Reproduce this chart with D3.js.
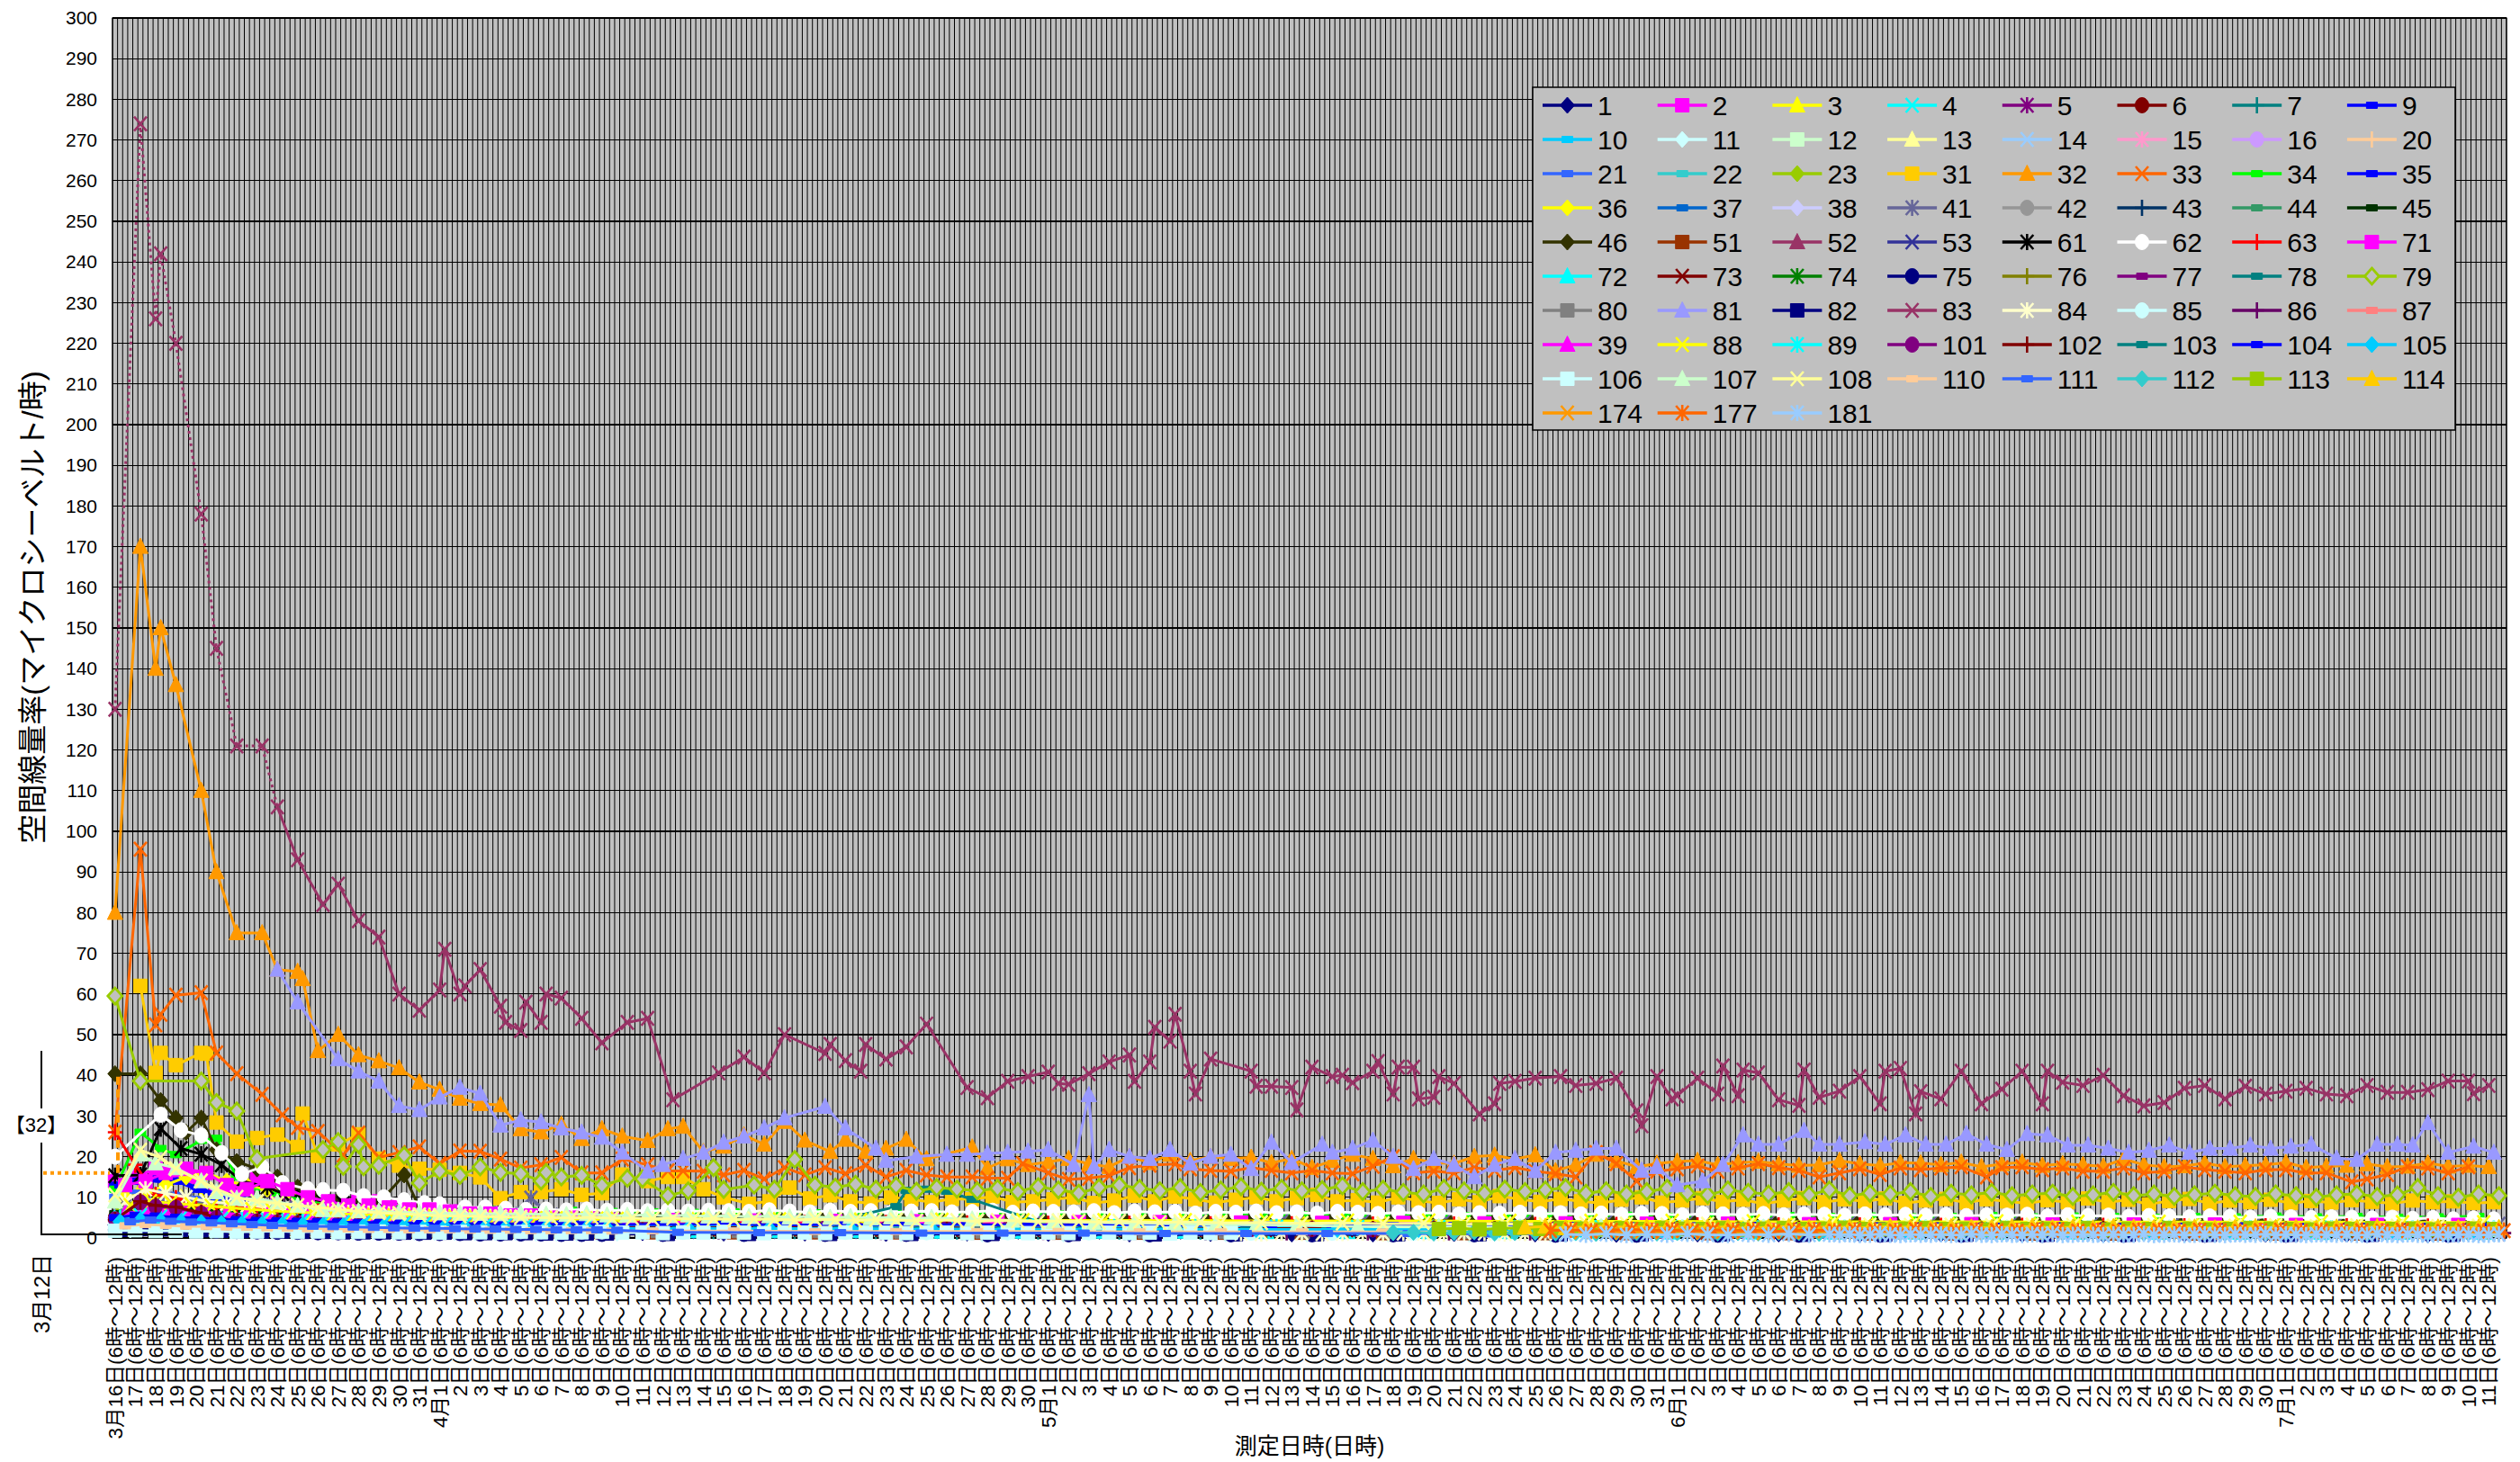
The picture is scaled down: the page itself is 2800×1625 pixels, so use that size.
<!DOCTYPE html>
<html><head><meta charset="utf-8">
<script src="https://cdn.jsdelivr.net/npm/d3@7"></script>
<style>
body{margin:0;background:#fff}
svg text{font-family:"Liberation Sans","Noto Sans CJK JP",sans-serif;fill:#000}
</style></head>
<body><svg id="chart" width="2800" height="1625"></svg>
<script>
// ---------- helpers for data entry (t = days after 3/16 6時, 0.25 = one category) ----------
function run(start, vals, step = 1, slot = 0) { return vals.map((v, i) => [start + i * step + slot / 4, v]); }

// ---------- categories / ticks ----------
const monthSpans = [["3月", 16, 31], ["4月", 1, 30], ["5月", 1, 31], ["6月", 1, 30], ["7月", 1, 11]];
const categoriesPerDay = 4;
const yTicks = d3.range(0, 301, 10);
const mar12Value32 = 16;

// ---------- series meta ----------
const seriesNames = ["1","2","3","4","5","6","7","9","10","11","12","13","14","15","16","20","21","22","23","31","32","33","34","35","36","37","38","41","42","43","44","45","46","51","52","53","61","62","63","71","72","73","74","75","76","77","78","79","80","81","82","83","84","85","86","87","39","88","89","101","102","103","104","105","106","107","108","110","111","112","113","114","174","177","181"];
const seriesColors = ["#000080","#FF00FF","#FFFF00","#00FFFF","#800080","#800000","#008080","#0000FF","#00CCFF","#CCFFFF","#CCFFCC","#FFFF99","#99CCFF","#FF99CC","#CC99FF","#FFCC99","#3366FF","#33CCCC","#99CC00","#FFCC00","#FF9900","#FF6600","#00FF00","#0000FF","#FFFF00","#0066CC","#CCCCFF","#666699","#969696","#003366","#339966","#003300","#333300","#993300","#993366","#333399","#000000","#FFFFFF","#FF0000","#FF00FF","#00FFFF","#800000","#008000","#000080","#808000","#800080","#008080","#99CC00","#808080","#9999FF","#000080","#993366","#FFFFCC","#CCFFFF","#660066","#FF8080","#FF00FF","#FFFF00","#00FFFF","#800080","#800000","#008080","#0000FF","#00CCFF","#CCFFFF","#CCFFCC","#FFFF99","#FFCC99","#3366FF","#33CCCC","#99CC00","#FFCC00","#FF9900","#FF6600","#99CCFF"];
const seriesMarkers = ["dia","sq","tri","x","star","circ","plus","dash","dash","dia","sq","tri","x","star","circ","plus","dash","dash","dia","sq","tri","x","dash","dash","dia","dash","dia","star","circ","plus","dash","dash","dia","sq","tri","x","star","circ","plus","sq","tri","x","star","circ","plus","dash","dash","hdia","sq","tri","sq","x","star","circ","plus","dash","tri","x","star","circ","plus","dash","dash","dia","sq","tri","x","dash","dash","dia","sq","tri","x","star","star"];
const dottedUntil = {"83": 8};

// ---------- series values ----------
const s1 = [...run(0,[3.2,3.5,3.1,2.9,2.7,2.5,2.4,2.3,2.2,2,2,1.9,1.8,1.8,1.7,1.7,1.6,1.6,1.5,1.5,1.5,1.4,1.4,1.4,1.3]), ...run(26,[1.3,1.2,1.2,1.1,1.2,1.1,1,1.1,1,1,1.1,1,0.9,1,1,0.9,1,0.9,0.9,1,0.9,0.9,0.8],4)];
const s2 = [...run(0,[14,15,17,16,15,11,12,15,11,10,9,8,9,9,8,7,7,6.5,6,6,5.5,5.2,5,5,4.6]), ...run(27,[4.4,4.2,4,4.1,3.9,3.8,3.9,3.7,3.6,3.8,3.5,3.6,3.4,3.5,3.3,3.4,3.2,3.3,3.1,3.2,3,3.1,3],4)];
const s3 = [...run(0,[10,12,11,10,9.5,9,8,8,7,7,6.5,6,6,5.5,5.5,5,5,4.8,4.6,4.5,4.4,4.2,4,4,3.8],1,1), ...run(28,[3.7,3.6,3.5,3.6,3.4,3.3,3.4,3.2,3.1,3.2,3,3.1,2.9,3,2.8,2.9,2.8,2.7,2.8,2.6,2.7,2.6,2.5],4,1)];
const s4 = [...run(0,[6,7.5,7,6.5,6,5.8,5.5,5.3,5,4.9,4.8,4.7,4.6,4.5,4.5,4.4,4.3,4.2,4.2,4.1,4,4,3.9,3.9,3.8],1,2), ...run(26,[3.8,4.6,3.7,4.8,3.6,4.2,3.5,4.4,3.4,3.6,3.3,3.5,3.2,3.4,3.1,3.3,3,3.2,3,3.1,2.9,3,2.8],4,2)];
const s5 = [...run(0,[4,4.5,4.2,4,3.8,3.6,3.4,3.3,3.2,3,3,2.9,2.8,2.8,2.7,2.6,2.6,2.5,2.5,2.4,2.4,2.3,2.3,2.2,2.2],1,1), ...run(27,[2.1,2.1,2,2,2,1.9,1.9,1.9,1.8,1.8,1.8,1.7,1.7,1.7,1.7,1.6,1.6,1.6,1.6,1.5,1.5,1.5,1.5],4,1)];
const s6 = [...run(0,[5,5.5,5.2,5,4.8,4.5,4.3,4.1,4,3.8,3.7,3.6,3.5,3.4,3.3,3.2,3.1,3,3,2.9,2.8,2.8,2.7,2.7,2.6]), ...run(28,[2.6,2.5,2.5,2.4,2.4,2.3,2.3,2.3,2.2,2.2,2.2,2.1,2.1,2.1,2,2,2,2,1.9,1.9,1.9,1.9,1.8],4)];
const s7 = [...run(0,[3,3.4,3.2,3,2.9,2.8,2.7,2.6,2.5,2.4,2.3,2.3,2.2,2.2,2.1,2.1,2,2,2,1.9,1.9,1.9,1.8,1.8,1.8],1,2), ...run(29,[1.7,1.7,1.7,1.6,1.6,1.6,1.6,1.5,1.5,1.5,1.5,1.5,1.4,1.4,1.4,1.4,1.4,1.3,1.3,1.3,1.3,1.3,1.3],4,2)];
const s9 = [...run(0,[13,14,14.5,14,12,10,9,8,7.5,7,6.5,6.2,6,5.8,5.5,5.3,5,4.9,4.8,4.6,4.5,4.4,4.3,4.2,4.1]), ...run(26,[4,3.9,3.8,3.8,3.7,3.6,3.6,3.5,3.5,3.4,3.4,3.3,3.3,3.3,3.2,3.2,3.1,3.1,3.1,3,3,3,3],4)];
const s10 = [...run(0,[8,8.5,8,7.5,7,6.5,6,5.6,5.3,5,4.8,4.6,4.4,4.2,4,3.9,3.8,3.7,3.6,3.5,3.4,3.3,3.2,3.2,3.1],1,1), ...run(27,[3,3,2.9,2.9,2.8,2.8,2.8,2.7,2.7,2.7,2.6,2.6,2.6,2.5,2.5,2.5,2.5,2.4,2.4,2.4,2.4,2.3,2.3],4,1)];
const s11 = [...run(0,[2,2.3,2.1,2,1.9,1.8,1.7,1.7,1.6,1.6,1.5,1.5,1.5,1.4,1.4,1.4,1.3,1.3,1.3,1.3,1.2,1.2,1.2,1.2,1.2],1,3), ...run(26,[1.1,1.1,1.1,1.1,1,1,1,1,1,1,0.9,0.9,0.9],4,3)];
const s12 = [...run(0,[6,6.5,6.2,6,5.6,5.3,5,4.8,4.6,4.4,4.2,4.1,4,3.9,3.8,3.7,3.6,3.5,3.4,3.4,3.3,3.3,3.2,3.2,3.1],1,2), ...run(28,[3.1,3,3,2.9,2.9,2.9,2.8,2.8,2.8,2.7,2.7,2.7,2.6,2.6,2.6,2.6,2.5,2.5,2.5,2.5,2.4,2.4,2.4],4,2)];
const s13 = [...run(0,[5,5.5,5.2,5,4.8,4.6,4.4,4.2,4,3.9,3.8,3.7,3.6,3.5,3.4,3.3,3.3,3.2,3.1,3.1,3,3,2.9,2.9,2.8],1,1), ...run(29,[2.8,2.7,2.7,2.7,2.6,2.6,2.6,2.5,2.5,2.5,2.5,2.4,2.4,2.4,2.4,2.3,2.3,2.3,2.3,2.3,2.2,2.2,2.2],4,1)];
const s14 = [...run(0,[4,4.4,4.1,3.9,3.7,3.5,3.3,3.1,3,2.9,2.8,2.7,2.6,2.5,2.4,2.4,2.3,2.2,2.2,2.1,2.1,2,2,1.9,1.9],1,3), ...run(27,[1.9,1.8,1.8,1.8,1.7,1.7,1.7,1.6,1.6,1.6,1.6,1.5,1.5,1.5,1.5,1.4,1.4,1.4,1.4,1.4,1.3,1.3,1.3],4,3)];
const s15 = [...run(0,[3,3.3,3.1,3,2.9,2.8,2.7,2.6,2.5,2.4,2.4,2.3,2.2,2.2,2.1,2.1,2,2,2,1.9,1.9,1.9,1.8,1.8,1.8],1,2), ...run(26,[1.7,1.7,1.7,1.7,1.6,1.6,1.6,1.6,1.5,1.5,1.5,1.5,1.5,1.4,1.4,1.4,1.4,1.4,1.4,1.3,1.3,1.3,1.3],4,2)];
const s16 = [...run(0,[4,4.5,4.3,4,3.8,3.6,3.5,3.3,3.2,3.1,3,2.9,2.8,2.8,2.7,2.6,2.6,2.5,2.5,2.4,2.4,2.3,2.3,2.3,2.2],1,1), ...run(28,[2.2,2.1,2.1,2.1,2,2,2,2,1.9,1.9,1.9,1.9,1.8,1.8,1.8,1.8,1.8,1.7,1.7,1.7,1.7,1.7,1.6],4,1)];
const s20 = [...run(0,[3,3.2,3,2.9,2.8,2.7,2.6,2.5,2.4,2.3,2.3,2.2,2.1,2.1,2,2,2,1.9,1.9,1.9,1.8,1.8,1.8,1.7,1.7],1,3), ...run(29,[1.7,1.6,1.6,1.6,1.6,1.5,1.5,1.5,1.5,1.5,1.4,1.4,1.4,1.4,1.4,1.4,1.3,1.3,1.3,1.3,1.3,1.3,1.3],4,3)];
const s21 = [...run(0,[10,11,11.5,10.5,9.5,8.5,7.8,7.2,6.8,6.4,6,5.8,5.5,5.3,5.1,5,4.8,4.7,4.6,4.5,4.4,4.3,4.2,4.1,4]), ...run(26,[3.9,3.8,3.8,3.7,3.6,3.6,3.5,3.5,3.4,3.4,3.4,3.3,3.3,3.3,3.2,3.2,3.2,3.1,3.1,3.1,3.1,3,3],4)];
const s22 = [...run(0,[5,5.4,5.2,5,4.8,4.6,4.4,4.2,4,3.9,3.8,3.7,3.6,3.5,3.4,3.3,3.2,3.2,3.1,3,3,2.9,2.9,2.8,2.8],1,2), ...run(27,[2.7,2.7,2.6,2.6,2.6,2.5,2.5,2.5,2.4,2.4,2.4,2.4,2.3,2.3,2.3,2.3,2.2,2.2,2.2,2.2,2.2,2.1,2.1],4,2)];
const s23 = [...run(0,[8,9,8.5,8,7.6,7.2,6.8,6.5,6.2,6,5.8,5.6,5.5,5.3,5.2,5.1,5,4.9,4.8,4.7,4.6,4.6,4.5,4.4,4.4],1,1), ...run(28,[4.3,4.3,4.2,4.2,4.1,4.1,4,4,4,3.9,3.9,3.9,3.8,3.8,3.8,3.8,3.7,3.7,3.7,3.7,3.6,3.6,3.6],4,1)];
const s31 = [[1.25,62],[2,40.6],[2.25,45.5],[3,42.5],[4.25,45.5],[4.5,45.3],[5,28.4],[6,23.7],[7,24.6],[8,25.4],[9,22.4],[9.25,30.6],[10,20.2],[11,23],[12,25.5],[13,19.5],[14,17.8],[15,17],[16,16.8],[17,16],[18,14.9],[19,9.8],[20,11.3],[21,11.3],[22,12],[23,10.6],[24,11],[25,15.6],[26.25,14],[27.25,15],[28,15],[29,12],[30,10],
  ...run(31,[8.4,9,12.4,9.7,10.5,9,8.5,10,9.5,8.8,9.6,9.5,10.2,8.8,9,9.5,10,8.6,9.2,10.4,9,10.2,9.5,8.7,9.4,10,9,9.8,10.6,9,9.3,8.7,10,9.2,8.6,9.5,8.8,10.3,9.5,8.9,9.6,9,8.6,9.4,10,8.7,9.2,9.8,8.9,9.4,8.4,9.2,9.8,8.8,9.5,9,9.7,8.6,9.2,9.6,8.7,9.5,9,8.5,9.3,8.8,9.7,8.8,9.4,8.3,9.1,9.6,8.5,9.2,8.8,9.4,8.6,9.1,8.7,9.3,8.9,8.5,9.2,8.8,9,8.6,8.8],1,1)];
const s32 = [[0,80],[1.25,170],[2,140],[2.25,150],[3,136],[4.25,110],[5,90],[6,75],[7.25,75],[8,66],[9,65.5],[9.25,63.7],[10,46],[11,50],[12,45],[13,43.5],[14,41.8],[15,38.3],[16,36.5],[17,34.3],[18,33],[19,32.7],[20,26.8],[21,26],[22,27.9],[23,24.4],[24,26.8],[25,25],[26.25,23.9],[27.25,26.8],[28,27.4],[29,21.2],[30,22.5],[31,25.3],[32,23],[33,28.6],[34,24],[35.25,21.2],[36,24.2],[37,21.2],[38,22],[39,24.2],[40,19.4],[42.25,22.3],[43,17.2],[44,19.4],[45,18],[46,18.7],[47,19.5],[48,18.2],[49,17.5],[50,20],[51,18.5],[52,20.5],[53,19],[54,20],[55,19.5],[56,19.8],[57,18.5],[58,19.5],[59,17.3],[60,19],[61,20.5],[62,19.5],[63,17.7],[64,19.5],[65,18.5],[66,18.3],[67,20],[68,20.3],[69,19.4],[70,20.4],[71,16.5],[72,18],[73,20.5],[74,19],[75,17.5],[76,18.3],[77,18.8],[78,19],[79,18],[80,18.5],[81,18.8],[82,18.2],[83,17.8],[84,18],[85,19],[86,18.2],[87,17.8],[88,18.5],[89,18.4],[90,18],[91,18.6],[92,17.5],[93,18.2],[94,18.6],[95,17.8],[96,18.2],[97,18],[98,17.6],[99,19.4],[100,18],[101,17.5],[102,17.7],[103,18.4],[104,17.5],[105,17.8],[106,18],[107,18.5],[108,17.3],[109,17.6],[110,17.8],[111,18.2],[112,17.5],[113,17.6],[114,18.4],[115,17.6],[116,17.8],[117,17.5]];
const s33 = [[0,26],[1.25,95.6],[2,52.4],[2.25,55],[3,59.7],[4.25,60.3],[5,45.5],[6,40.4],[7.25,35.3],[8.25,30.3],[9,27.2],[10,26.2],[11.25,20.4],[12,25.8],[13,19.8],[14,21],[15,22.4],[16,18.3],[17,21.4],[18,21.3],[19,19.4],[20,17.2],[21,18],[22,19.8],[23,16],[24,16],[25,19.4],[26.25,18],[27.25,16.5],[28,16.5],[29,16.4],[30,15.5],[31,16.6],[32,14.5],[33,17.3],[34,15.5],[35,17.3],[36,15.8],[37,17.9],[38,15],[39,16.6],[40,15.5],[41,15],[42.25,15],[43,14.7],[44,14.7],[44.75,18.3],[46,16],[47,14.4],[48,14.7],[49,15.3],[50,17.3],[51,17.9],[52.25,18.2],[53,17],[54,16.6],[55,16.4],[56,17.3],[57,16.6],[58,16],[59,16.6],[60,16],[61,15.8],[62,17.6],[63,20],[64,16],[65,16.4],[66,16],[67,17.3],[68,16.6],[69,17.3],[70,16.4],[71,15.8],[72,15],[73,21],[74,18.3],[75,14],[76,16.4],[77,17],[78,17.7],[79,16.4],[80,17.2],[81,18.3],[82,17.3],[83,16.6],[84,15],[85,16],[86,17],[87,15.6],[88,17.2],[89,16.8],[90,17.2],[91,17.5],[92.25,15],[93,17.3],[94,17.5],[95,16.8],[96,17.2],[97,16.4],[98,16.4],[99,17.2],[100,16],[101,16.4],[102,17.5],[103,16.8],[104,16.4],[105,16],[106,16.8],[107,16.8],[108,16],[109,16],[110.25,13.8],[111,14.5],[112,15.6],[113,17.5],[114,17.2],[115,16],[116,17.5]];
const s34 = [[0,12],[1.25,26],[2.25,22],[3,20.5],[4.25,24],[5,24.5],[6,15],[7,12.5],[8,11],[9,10],[10,9.2],[11,8.6],[12,8.2],[13,7.8],
  ...run(14,[7.6,7.2,7,6.7,6.8,6.5,6.4,6.3,6.4,6.1,6.2,6,6.1,5.9,6,5.8,5.9,5.7,5.8,5.6,5.8,5.5,5.7,5.6,5.4,5.6,5.5,5.3,5.5,5.4,5.6,5.3,5.4,5.2,5.5,5.3,5.4,5.2,5.3,5.5,5.2,5.4,5.3,5.1,5.3,5.2,5.4,5.2,5.3,5.1,5.2,5.3],2,2)];
const s35 = [...run(0,[13,14,14.5,14,12,10.5,9.5,8.5,7.8,7.2,6.8,6.4,6,5.8,5.5,5.3,5.1,5,4.8,4.7,4.6,4.5,4.4,4.3,4.2],1,1), ...run(25,[4.1,4,4.2,3.9,4,3.8,3.9,3.7,3.8,3.7,3.6,3.8,3.6,3.5,3.7,3.5,3.6,3.4,3.5,3.6,3.4,3.5,3.3,3.5,3.4,3.3,3.4,3.3,3.2,3.4,3.3],3,1)];
const s36 = [...run(0,[10,11,13,15,16,14,13,12,11.4,10,8.5,8,7.5,7,6.5,6.5,6,6,5.5,5.5,5,5,5,4.8,4.6],1,2), ...run(26,[4.5,4.4,4.4,4.3,4.2,4.2,4.1,4.1,4,4,4,3.9,3.9,3.9,3.8,3.8,3.8,3.8,3.7,3.7,3.7,3.7,3.6],4,2)];
const s37 = [...run(0,[6,6.5,6.3,6,5.7,5.4,5.2,5,4.8,4.6,4.5,4.4,4.3,4.2,4.1,4,3.9,3.9,3.8,3.8,3.7,3.7,3.6,3.6,3.5],1,3), ...run(27,[3.5,3.5,3.4,3.4,3.4,3.3,3.3,3.3,3.3,3.2,3.2,3.2,3.2,3.1,3.1,3.1,3.1,3.1,3,3,3,3,3],4,3)];
const s38 = [...run(0,[5,5.5,5.2,5,4.7,4.5,4.3,4.1,3.9,3.8,3.7,3.6,3.5,3.4,3.3,3.2,3.2,3.1,3,3,2.9,2.9,2.8,2.8,2.8]), ...run(28,[2.7,2.7,2.7,2.6,2.6,2.6,2.5,2.5,2.5,2.5,2.4,2.4,2.4,2.4,2.3,2.3,2.3,2.3,2.3,2.2,2.2,2.2,2.2],4)];
const s41 = [...run(0,[8,9,9.5,9.2,8.8,8.5,8.2,8,7.8,7.6,7.4,7.2,7,6.8,6.6,6.4,6.2,6,5.9,5.8,9.8,5.6,5.5,5.4,5.3],1,2), ...run(29,[5,4.8,4.6,4.5,4.4,4.3,4.2,4.1,4,4,3.9,3.9,3.8,3.8,3.7,3.7,3.6,3.6,3.6,3.5,3.5,3.5,3.4],4,2)];
const s42 = [...run(0,[6,6.5,7,7.2,7.3,6.5,6,5.5,5,4.6,4.3,4,3.8,3.6,3.4,3.2,3.1,3,2.9,2.8,2.7,2.6,2.6,2.5,2.5],1,3), ...run(26,[2.4,2.4,2.3,2.3,2.3,2.2,2.2,2.2,2.1,2.1,2.1,2.1,2,2,2,2,2,1.9,1.9,1.9,1.9,1.9,1.9],4,3)];
const s43 = [...run(0,[3,3.3,3.1,2.9,2.8,2.6,2.5,2.4,2.3,2.2,2.1,2.1,2,2,1.9,1.9,1.8,1.8,1.8,1.7,1.7,1.7,1.6,1.6,1.6],1,1), ...run(27,[1.5,1.5,1.5,1.5,1.4,1.4,1.4,1.4,1.3,1.3,1.3,1.3,1.3,1.2,1.2,1.2,1.2,1.2,1.2,1.1,1.1,1.1,1.1],4,1)];
const s44 = [...run(0,[5,5.4,5.1,4.9,4.7,4.5,4.3,4.1,3.9,3.8,3.7,3.6,3.5,3.4,3.3,3.2,3.1,3.1,3,3,2.9,2.9,2.8,2.8,2.7],1,2), ...run(28,[2.7,2.6,2.6,2.6,2.5,2.5,2.5,2.4,2.4,2.4,2.3,2.3,2.3,2.3,2.2,2.2,2.2,2.2,2.1,2.1,2.1,2.1,2],4,2)];
const s45 = [...run(0,[6,7,7.5,7.2,6.8,6.4,6,5.7,5.4,5.2,5,4.8,4.6,4.5,4.4,4.3,4.2,4.1,4,3.9,3.9,3.8,3.8,3.7,3.7]), ...run(29,[3.6,3.6,3.5,3.5,3.4,3.4,3.3,3.3,3.3,3.2,3.2,3.2,3.1,3.1,3.1,3,3,3,3,2.9,2.9,2.9,2.8],4)];
const s46 = [[0,40.4],[1.25,40.4],[2.25,33.8],[3,29.5],[3.5,26],[4.25,29.5],[5,21.7],[6,18.8],[7,17],[8,15],[9,12.5],[10,11],[11,9.3],[12,8.3],[13,8.5],[14.25,15.5],[15,7.5],[16,6.3],
  ...run(17,[6.2,5.9,6.0,5.7,5.8,5.5,5.6,5.4,5.5,5.2,5.3,5.1,5.2,5.0,5.1,4.9,5.0,4.8,4.9,4.7,4.9,4.6,4.8,4.7,4.6,4.8,4.5,4.7,4.6,4.5,4.7,4.4,4.6,4.5,4.6,4.4,4.5,4.3,4.6,4.4,4.5,4.3,4.4,4.5,4.2,4.4,4.3,4.5,4.2,4.4,4.3,4.2,4.4,4.3,4.2,4.4,4.1,4.3,4.2,4.4,4.1,4.3,4.2,4.1,4.3,4.2,4.0,4.3,4.1,4.2,4.0,4.2,4.1,4.0,4.2,4.1,3.9,4.2,4.0,4.1,3.9,4.1,4.0,3.9,4.1,4.0,3.8,4.0,3.9,4.0,3.8,4.0,3.9,3.8,4.0,3.9,3.8,4.0,3.9,3.8,3.9])];
const s51 = [...run(0,[3,3.2,3,2.8,2.6,2.5,2.4,2.3,2.2,2.1,2,2,1.9,1.9,1.8,1.8,1.7,1.7,1.7,1.6,1.6,1.6,1.5,1.5,1.5],1,2), ...run(26,[1.4,1.4,1.4,1.4,1.3,1.3,1.3,1.3,1.3,1.2,1.2,1.2,1.2,1.2,1.2,1.1,1.1,1.1,1.1,1.1,1.1,1.1,1.1],4,2)];
const s52 = [...run(0,[4,4.4,4.2,4,3.8,3.6,3.4,3.3,3.2,3.1,3,2.9,2.8,2.8,2.7,2.6,2.6,2.5,2.5,2.4,2.4,2.3,2.3,2.3,2.2],1,3), ...run(27,[2.2,2.1,2.1,2.1,2,2,2,2,1.9,1.9,1.9,1.9,1.9,1.8,1.8,1.8,1.8,1.8,1.7,1.7,1.7,1.7,1.7],4,3)];
const s53 = [...run(0,[3,3.3,3.1,2.9,2.8,2.7,2.6,2.5,2.4,2.3,2.2,2.2,2.1,2.1,2,2,1.9,1.9,1.9,1.8,1.8,1.8,1.7,1.7,1.7],1,1), ...run(28,[1.6,1.6,1.6,1.6,1.5,1.5,1.5,1.5,1.4,1.4,1.4,1.4,1.4,1.3,1.3,1.3,1.3,1.3,1.3,1.2,1.2,1.2,1.2],4,1)];
const s61 = [[0,15.3],[1.25,15.5],[2.25,26.9],[3.25,22],[4.25,20.6],[5.25,18],[6.25,14],[7.5,12.5],[8.25,11],
  ...run(9,[10,9,8.5,8,7.5,7,7,6.5,6.2,6,5.8,5.6],1,1),
  ...run(22,[5.4,5.1,5.2,4.8,4.9,4.6,4.7,4.4,4.6,4.3,4.5,4.2,4.4,4.1,4.3,4.2,4,4.2,3.9,4.1,3.8,4,3.9,3.7,3.9,3.8,3.6,3.8,3.7,3.5,3.7,3.6,3.4,3.6,3.5,3.3,3.5,3.4,3.3,3.5,3.2,3.4,3.3,3.1,3.3,3.2,3.1,3.2],2,1)];
const s62 = [[0,20],[2.25,30.3],[3.25,26.5],[4.25,25.2],[5.25,20.9],[6.25,15.7],[7.25,17.5],[8.25,13.5],[9.5,12],[10.25,11.8],[11.25,11.6],[12.25,10.3],[13.25,10],[14.25,9.3],[15.25,8.6],[16,8.3],
  ...run(17,[7.5,7.5,7.2,6.9,7,6.8,7,6.7,6.9,6.6,6.8,6.5,6.7,6.6,6.4,6.8,6.5,6.3,6.7,6.4,6.6,6.2,6.5,6.6,6.3,6.4,6.7,6.2,6.5,6.4,6.3,6.6,6.1,6.5,6.3,6.4,6.0,6.4,6.2,6.5,6.1,6.3,6.0,6.4,6.2,5.9,6.3,6.1,6.2,5.8,6.1,6.0,6.2,5.9,6.1,5.8,6.0,5.7,6.0,5.9,5.6,6.0,5.8,5.7,5.9,5.6,5.8,5.7,5.5,5.8,5.6,5.7,5.5,5.7,5.4,5.6,5.5,5.7,5.3,5.6,5.4,5.5,5.2,5.4,5.3,5.1,5.3,5.2,5.0,5.2,5.1,4.9,5.1,5.0,4.8,5.0,4.7,4.9,4.6,4.8,4.6],1,1)];
const s63 = [...run(0,[26,18,10.6,9.8,8,7.5,7.4,7.2,7,6.8,6.5,6.3,6,5.8,5.6,5.4,5.2,5,5,4.8,4.6,4.5,4.4,4.2,4]), ...run(26,[3.9,3.8,3.7,3.7,3.6,3.5,3.5,3.4,3.4,3.3,3.3,3.2,3.2,3.1,3.1,3.1,3,3,3,2.9,2.9,2.9,2.8],4)];
const s71 = [...run(0,[13,14,16,17,16,13,12,14,12,10,9,8,8,7.5,7,7,6.5,6,6,5.5,5.5,5,5,4.8,4.5],1,2), ...run(27,[4.4,4.3,4.2,4.1,4,3.9,3.9,3.8,3.7,3.7,3.6,3.6,3.5,3.5,3.4,3.4,3.4,3.3,3.3,3.3,3.2,3.2,3.2],4,2)];
const s72 = [...run(0,[3,3.4,3.2,3,2.9,2.8,2.7,2.6,2.5,2.4,2.3,2.3,2.2,2.2,2.1,2.1,2,2,2,1.9,1.9,1.9,1.8,1.8,1.8],1,3), ...run(28,[1.7,1.7,1.7,1.6,1.6,1.6,1.6,1.5,1.5,1.5,1.5,1.5,1.4,1.4,1.4,1.4,1.4,1.4,1.3,1.3,1.3,1.3,1.3],4,3)];
const s73 = [...run(0,[4,4.5,4.3,4.1,3.9,3.7,3.5,3.4,3.3,3.2,3.1,3,2.9,2.8,2.8,2.7,2.6,2.6,2.5,2.5,2.4,2.4,2.3,2.3,2.3],1,1), ...run(29,[2.2,2.2,2.1,2.1,2.1,2,2,2,2,1.9,1.9,1.9,1.9,1.8,1.8,1.8,1.8,1.8,1.8,1.7,1.7,1.7,1.7],4,1)];
const s74 = [...run(0,[5,5.5,5.2,5,4.8,4.6,4.4,4.2,4,3.9,3.8,3.7,3.6,3.5,3.4,3.3,3.3,3.2,3.1,3.1,3,3,2.9,2.9,2.9],1,2), ...run(26,[2.8,2.8,2.7,2.7,2.7,2.6,2.6,2.6,2.5,2.5,2.5,2.5,2.4,2.4,2.4,2.4,2.3,2.3,2.3,2.3,2.3,2.2,2.2],4,2)];
const s75 = [...run(0,[2,2.3,2.1,2,1.9,1.8,1.7,1.6,1.5,1.5,1.4,1.4,1.3,1.3,1.3,1.2,1.2,1.2,1.1,1.1,1.1,1.1,1,1,1]), ...run(27,[1,1,1,1,0.9,0.9,0.9,0.9,0.9,0.9,0.9,0.8,0.8,0.8,0.8,0.8,0.8,0.8,0.8,0.8,0.8,0.8,0.8],4)];
const s76 = [...run(0,[4,4.3,4.1,3.9,3.7,3.5,3.3,3.2,3.1,3,2.9,2.8,2.7,2.7,2.6,2.5,2.5,2.4,2.4,2.3,2.3,2.3,2.2,2.2,2.2],1,3), ...run(28,[2.1,2.1,2.1,2,2,2,2,1.9,1.9,1.9,1.9,1.8,1.8,1.8,1.8,1.8,1.7,1.7,1.7,1.7,1.7,1.6,1.6],4,3)];
const s77 = [...run(0,[4,4.4,4.2,4,3.8,3.6,3.4,3.3,3.2,3.1,3,2.9,2.8,2.8,2.7,2.6,2.6,2.5,2.5,2.4,2.4,2.4,2.3,2.3,2.3],1,1), ...run(29,[2.2,2.2,2.2,2.1,2.1,2.1,2,2,2,2,1.9,1.9,1.9,1.9,1.9,1.8,1.8,1.8,1.8,1.8,1.7,1.7,1.7],4,1)];
const s78 = [...run(0,[4,4.5,4.3,4.1,3.9,3.7,3.6,3.5,3.4,3.3,3.2,3.1,3,3,2.9,2.9,2.8,2.8,2.7,2.7,2.6,2.6,2.6,2.5,2.5],1,2), [26,2.5],[30,2.4],[34,2.4],[38.5,7.7],[39,11.7],[40,12],[41,11.5],[42.25,9.5], ...run(46,[2.3,2.3,2.3,2.2,2.2,2.2,2.2,2.1,2.1,2.1,2.1,2.1,2,2,2,2,2,2],4,2)];
const s79 = [[0,59.5],[1.25,38.6],[4.25,38.6],[5,33.3],[6,31.2],[7,19.5],[10.25,21.7],[11,23.7],[11.25,17.6],[12,23],[12.25,17.5],[13,17.9],[14.25,20.3],[15,13.5],[16,16.4],[17,15.4],[18,17.5],[19,16.1],[20,15.8],[21,14],[21.25,16.1],[22,15],[23,15.4],[24,12.9],[25.25,14.7],[26,14.5],[27.25,10.4],[28.25,11.6],[29.5,17.3],[30,11.9],
  ...run(31,[13,12,19.3,13,12.5,13.2,12,12.8,11.5,12.4,12,11.6,12.2,11.4,12.6,11.8,11,12.4,13,12.2,11.6,12.4,11.2,11.8,12.6,11.5,12.2,11.6,11.9,12.8,11.4,12,11.2,10.8,12.2,11.6,11,12,11.4,11.8,12.4,11,11.6,10.8,11.4,12.2,11,10.6,11.8,11.2,10.8,11.4,10.6,11.8,10.4,11,10.8,11.4,10.2,11,10.6,11.2,10.4,10.8,11,10.2,10.6,11.2,10.4,10.8,10.2,10.6,11,10.4,10.2,10.8,10.4,10,10.6,10.8,10.2,10.6,12.4,10.4,10,10.8,10.4],1,2)];
const s80 = [...run(0,[3,3.4,3.2,3,2.9,2.8,2.7,2.6,2.5,2.4,2.3,2.3,2.2,2.2,2.1,2.1,2,2,2,1.9,1.9,1.9,1.8,1.8,1.8],1,3), ...run(26,[1.7,1.7,1.7,1.6,1.6,1.6,1.6,1.5,1.5,1.5,1.5,1.5,1.4,1.4,1.4,1.4,1.4,1.4,1.3,1.3,1.3,1.3,1.3],4,3)];
const s81 = [[8,66],[9,58],[11,44],[12,41],[13,38.5],[14,32.5],[15,31.5],[16,34.6],[17,37],[18,35.5],[19,27.7],[20,29],[21,28.5],[22,27],[23,26],[24,24.7],[25,21],[26.25,16.4],[27,18],[28,19.5],[29,21],[30,23.5],[31,25],[32,27],[33,29.5],[35,32.3],[36,27],[37.5,22],[38,19],[39.5,20],[41,20.5],[42,20.5],[43,20.8],[44,21],[45,21.3],[46,21.7],[47.25,18],[48,35.2],[48.25,17.5],[49,21.7],[50,20],[51,19.5],[52,21.7],[53,18.3],[54,20],[55,20.5],[56,17],[57,23.5],[58,18.5],[59.5,23],[60,21],[61,22],[62,24],[63,20],[64,17],[65,19.5],[66,18],[67,15],[68,18],[69,19.5],[70,16.5],[71,21],[72,21.5],[73,22],[74,22],[75.25,16.6],[76,17.5],[77,13],[78.25,14],[79.25,18],[80.25,25.3],[81,23],[82,23],[83.25,26.4],[84,23],[85,23],[86.25,23.6],[87.25,23],[88.25,25.3],[89.25,23],[90.25,23],[91.25,25.6],[92.25,23],[93.25,21.7],[94.25,25.6],[95.25,25.3],[96.25,22.8],[97.25,22.8],[98.25,22],[99.25,21],[100.25,21.5],[101.25,22.8],[102.25,21],[103.25,22],[104.25,22],[105.25,22.8],[106.25,22],[107.25,22.5],[108.25,23],[109.5,19.6],[110.5,19.3],[111.5,23],[112.5,23],[113.25,22.8],[114,28.3],[115,21],[116.25,22.5],[117.25,21]];
const s82 = [...run(0,[2,2.2,2.1,2,1.9,1.8,1.7,1.6,1.6,1.5,1.5,1.4,1.4,1.4,1.3,1.3,1.3,1.2,1.2,1.2,1.2,1.1,1.1,1.1,1.1],1,1), ...run(27,[1,1,1,1,1,1,0.9,0.9,0.9,0.9,0.9,0.9,0.9,0.9,0.8,0.8,0.8,0.8,0.8,0.8,0.8,0.8,0.8],4,1)];
const s83 = [[0,130],[1.25,274],[2,226],[2.25,242],[3,220],[4.25,178],[5,145],[6,121],[7.25,121],[8,106],[9,93],[10.25,82],[11,87],[12,78],[13,74],[14,60],[15,56],[16,61],[16.25,71],[17,60],[17.25,62],[18,66],[19,57],[19.25,53],[20,51],[20.25,58],[21,53],[21.25,60],[22,59],[23,54],[24,48],[25.25,53],[26.25,54],[27.5,34],[29.75,40.6],[31,44.5],[32,40.6],[33,50],[35,45.4],[35.25,47.6],[36,43.6],[36.75,41],[37,47.6],[38,44],[39,47],[40,52.6],[42,37],[43,34.5],[44,38.5],[45,39.7],[46,40.8],[46.5,38],[47,37.8],[48,40.4],[49,43.3],[50,45],[50.25,38.5],[51,43.3],[51.25,51.8],[52,48.4],[52.25,55],[53,41],[53.25,35.4],[54,44],[56,41],[56.25,37.3],[57,37.3],[58,37],[58.25,31.5],[59,42],[60,39.7],[60.5,40],[61,38.2],[62,41],[62.25,43.4],[63,35.4],[63.25,42],[64,42],[64.25,34.2],[65,34.6],[65.25,39.7],[66,38],[67.25,30.5],[68,33],[68.25,38],[69,38.5],[70,39.3],[71.25,39.7],[72,37.5],[73,38],[74,39.3],[75,31.3],[75.25,27.6],[76,39.7],[76.75,34.2],[77,35],[78,39.3],[79,35.4],[79.25,42.3],[80,35],[80.25,41.3],[81,40.6],[82,34],[83,32.6],[83.25,41.3],[84,34.6],[85,36.1],[86,39.7],[87,33],[87.25,41],[88,41.7],[88.75,30.5],[89,36],[90,34.2],[91,41],[92,33],[93,36.6],[94,41],[95,33],[95.25,41],[96,38.3],[97,37.5],[98,40],[99,35],[100,32.5],[101,33.3],[102,36.8],[103,37.5],[104,34.2],[105,37.3],[106,35.4],[107,36.1],[108,36.8],[109,35.4],[110,35],[111,37.5],[112,35.8],[113,35.8],[114,36.5],[115,38.6],[116,38.6],[116.25,35.5],[117,37.5]];
const s84 = [...run(0,[9,12,11,10,9,8.5,8,7.5,7,6.8,6.5,6.2,6,5.8,5.6,5.5,5.4,5.3,5.2,5.1,5,4.9,4.9,4.8,4.8],1,2), ...run(26,[4.7,4.6,4.6,4.5,4.5,4.4,4.4,4.3,4.3,4.2,4.2,4.1,4.1,4,4],2,2), ...run(55,[1.2,1.1,1.3,1.2,1.1,1.2,1.3,1.1,1.2,1.2,1.1,1.3,1.2,1.1,1.2,1.2,1.1,1.3],1,2)];
const s85 = [...run(0,[3,3.3,3.1,3,2.8,2.7,2.6,2.5,2.4,2.3,2.2,2.2,2.1,2,2,1.9,1.9,1.8,1.8,1.8,1.7,1.7,1.7,1.6,1.6]), ...run(28,[1.5,1.5,1.5,1.4,1.4,1.4,1.4,1.3,1.3,1.3,1.3,1.2],4)];
const s86 = [...run(0,[3,3.3,3.1,3,2.8,2.7,2.6,2.5,2.4,2.3,2.2,2.2,2.1,2,2,1.9,1.9,1.8,1.8,1.8,1.7,1.7,1.7,1.6,1.6],1,3), ...run(29,[1.6,1.6,1.5,1.5,1.5,1.5,1.4,1.4,1.4,1.4,1.4,1.3,1.3,1.3,1.3,1.3,1.3,1.2,1.2,1.2,1.2,1.2,1.2],4,3)];
const s87 = [...run(0,[4,4.3,4.1,3.9,3.7,3.5,3.4,3.3,3.2,3.1,3,2.9,2.8,2.8,2.7,2.6,2.6,2.5,2.5,2.4,2.4,2.4,2.3,2.3,2.3],1,1), ...run(26,[2.2,2.2,2.2,2.1,2.1,2.1,2,2,2,2,1.9,1.9,1.9,1.9,1.9,1.8,1.8,1.8,1.8,1.8,1.7,1.7,1.7],4,1)];
const s39 = [...run(0,[6,7,6.8,6.5,6.2,6,5.8,5.5,5.3,5.1,4.9,4.7,4.5,4.4,4.3,4.2,4.1,4,3.9,3.8,3.8,3.7,3.6,3.6,3.5],1,2), ...run(27,[3.4,3.4,3.3,3.3,3.2,3.2,3.3,3.1,3.1,3.1,3,3,3,2.9,2.9,2.9,2.8,2.8,2.8,2.8,2.7,2.7,2.7],4,2)];
const s88 = [...run(0,[8,9,8.6,8.2,7.8,7.4,7,6.7,6.4,6.2,6,5.8,5.6,5.5,5.4,5.3,5.2,5.1,5,4.9,4.8,4.8,4.7,4.7,4.6],1,3), ...run(28,[4.5,4.5,4.4,4.4,4.3,4.3,4.3,4.2,4.2,4.2,4.1,4.1,4.1,4,4,4,4,3.9,3.9,3.9,3.9,3.8,3.8],4,3)];
const s89 = [...run(0,[5,5.5,5.2,5,4.8,4.6,4.4,4.2,4.1,4,3.9,3.8,3.7,3.6,3.5,3.4,3.4,3.3,3.2,3.2,3.1,3.1,3,3,3],1,1), ...run(29,[2.9,2.9,2.8,2.8,2.8,2.7,2.7,2.7,2.6,2.6,2.6,2.6,2.5,2.5,2.5,2.5,2.4,2.4,2.4,2.4,2.4,2.3,2.3],4,1)];
const s101 = [[0,4.6],[1.25,8.8],[2,7.7],[3,7.4],[4.25,6],[5,4.9],[6,4.1],[7,4.1],[8,3.8],[9,3.6],[10,3.5],[11,3.4],[12,3.3],[13,3.2],[14,3.2],[15,3.1],[16,3],[17,3],[18,2.9],[19,2.8],[20,2.8],[21,2.7],[22,2.6],[23,2.6],[24,2.5],
  ...run(26,[2.5,2.4,2.5,2.4,2.3,2.4,2.3,2.3,2.2,2.3,2.2,2.2,2.1,2.2,2.1,2.2,2.1,2.1,2,2.1,2,2.1,2,2,2.1,2,1.9,2,2,1.9,2],3)];
const s102 = [[0,4.4],[1.25,9],[2,8],[3,7.6],[4.25,6.2],[5,5],[6,4.2],[7,4],[8,3.9],[9,3.7],[10,3.6],[11,3.5],[12,3.4],[13,3.3],[14,3.3],[15,3.2],[16,3.1],[17,3.1],[18,3],[19,2.9],[20,2.9],[21,2.8],[22,2.7],[23,2.7],[24,2.6],
  ...run(26,[2.6,2.5,2.6,2.5,2.4,2.5,2.4,2.4,2.3,2.4,2.3,2.3,2.2,2.3,2.2,2.3,2.2,2.2,2.1,2.2,2.1,2.2,2.1,2.1,2.2,2.1,2,2.1,2.1,2,2.1],3)];
const s103 = [...run(0,[4,4.3,4.1,3.9,3.7,3.6,3.4,3.3,3.2,3.1,3,2.9,2.9,2.8,2.7,2.7,2.6,2.6,2.5,2.5,2.4,2.4,2.4,2.3,2.3],1,3), ...run(27,[2.3,2.2,2.2,2.2,2.1,2.1,2.1,2,2,2,2,1.9,1.9,1.9,1.9,1.9,1.8,1.8,1.8,1.8,1.8,1.8,1.7],4,3)];
const s104 = [...run(0,[5,5.6,5.4,5.1,4.9,4.7,4.5,4.3,4.2,4.1,4,3.9,3.8,3.8,3.7,3.7,3.6,3.6,3.5,3.5,3.5,3.4,3.4,3.4,3.3]), ...run(27,[3.3,3.4,3.2,3.3,3.2,3.3,3.1,3.2,3.2,3.1,3.2,3,3.1,3.1,3,3.1,3,3,3.1,2.9,3,3,2.9,3,2.9,2.9,3,2.8,2.9,2.9,2.8],3)];
const s105 = [...run(0,[4,4.4,4.2,4,3.8,3.6,3.5,3.4,3.3,3.2,3.1,3,2.9,2.9,2.8,2.7,2.7,2.6,2.6,2.5,2.5,2.5,2.4,2.4,2.4],1,1), ...run(28,[2.3,2.3,2.3,2.2,2.2,2.2,2.2,2.1,2.1,2.1,2.1,2.1,2,2,2,2,2,2,1.9,1.9,1.9,1.9,1.9],4,1)];
const s106 = run(0,[1.8,1.9,1.7,1.8,1.6,1.7,1.5,1.6,1.7,1.5,1.6,1.4,1.5,1.6,1.4,1.5,1.3,1.5,1.4,1.3,1.5,1.4,1.3,1.4,1.5,1.3,1.4,1.2,1.4,1.3,1.5,1.3,1.2,1.4,1.3,1.2,1.4,1.3,1.3,1.2,1.4,1.3,1.2,1.3,1.4,1.2,1.3,1.2,1.3,1.3,1.2,1.3,1.1,1.3,1.2,1.3]);
const s107 = [[0,9],[1.25,20.6],[2,18.4],[3,17.2],[4.25,14],[5,11.3],[6,9.7],[7,9.7],[8,8.8],[9,8],[10.25,6.9],[11,6.8],[12,6.6],[13,6.5],[14,6.3],[15,6.2],[16,6.1],[17,6],[18,6],[19,5.9],[20,5.9],
  ...run(21,[5.8,5.7,5.9,5.6,5.5,5.7,5.4,5.6,5.3,5.5,5.2,5.4,5.1,5.3,5,5.2,4.9,5.1,4.8,5],1,1),
  ...run(42,[4.6,4.3,4,3.8,3.6,3.5,3.3,3.2,3.1],2,1),
  ...run(61,[2.8,2.7,2.6,2.7,2.5,2.6,2.4,2.5,2.4,2.3,2.4,2.2,2.3,2.2,2.1],4,1)];
const s108 = [[0,10.6],[1.25,21.6],[2.25,19.8],[3,17],[4.25,14],[5,12],[6,10],[7,9],[8,8.5],[9,8],[10,7.5],[11,7],[12,6.5],[13,6.2],[14,6],[15,5.7],[16,5.5],[17,5.4],[18,5.3],[19,5.2],[20,5.1],
  ...run(21,[5,4.9,5.1,4.8,4.9,4.7,4.9,4.6,4.8,4.5,4.7,4.6,4.4,4.6,4.5,4.3,4.5,4.4,4.2,4.4,4.3,4.1,4.3,4.2,4,4.2,4.1,3.9,4.1,4,3.8,4,3.9,3.7],1,2),
  ...run(56,[3.8,3.6,3.7,3.5,3.6,3.4,3.5,3.3,3.5,3.4,3.2,3.4,3.3,3.1,3.3,3.2,3.1,3.2,3,3.2,3.1,2.9,3.1,3,2.9,3,2.8,3,2.9,2.8,2.9],2,2)];
const s110 = [...run(0,[3,3.3,3.1,2.9,2.8,2.7,2.6,2.5,2.4,2.3,2.3,2.2,2.1,2.1,2,2,2,1.9,1.9,1.9,1.8,1.8,1.8,1.8,1.7],1,2), ...run(26,[1.7,1.7,1.6,1.6,1.6,1.6,1.5,1.5,1.5,1.5,1.5,1.4,1.4,1.4,1.4,1.4,1.4,1.3,1.3,1.3,1.3,1.3,1.3],4,2)];
const s111 = [...run(0,[4,4.4,4.1,3.9,3.7,3.5,3.3,3.1,3,2.9,2.8,2.7,2.6,2.5,2.4,2.4,2.3,2.2,2.2,2.1,2.1,2,2,2,1.9],1,3), ...run(27,[1.4,1.3,1.3,1.2,1.2,1.2,1.1,1.1,1.1,1.1,1,1,1,1,1,0.9,0.9,0.9,0.9,0.9,0.9,0.9,0.9],4,3)];
const s112 = run(63,[1.3,1.4,1.2,1.3,1.5,1.2,1.3,1.4,1.2,1.3,1.1,1.4,1.3,1.2,1.3,1.4,1.2,1.3,1.2,1.4,1.3,1.1,1.3,1.2,1.4,1.3,1.2,1.3,1.1,1.3,1.2,1.4,1.2,1.3,1.2,1.1,1.3,1.2,1.3,1.4,1.2,1.2,1.3,1.1,1.3,1.2,1.2,1.3,1.1,1.2,1.3,1.2,1.1,1.2,1.3]);
const s113 = run(65,[2.2,2.4,2.1,2.3,2.5,2.2,2.4,2.3,2.1,2.4,2.2,2.5,2.3,2.2,2.4,2.1,2.3,2.4,2.2,2.3,2.5,2.2,2.1,2.3,2.4,2.2,2.3,2.1,2.4,2.2,2.3,2.2,2.4,2.1,2.3,2.2,2.4,2.3,2.1,2.2,2.4,2.3,2.2,2.1,2.3,2.2,2.4,2.2,2.3,2.1,2.2,2.3,2.2],1,1);
const s114 = run(69,[2.6,2.8,2.5,2.7,2.9,2.6,2.7,2.5,2.8,2.6,2.7,2.4,2.6,2.8,2.5,2.7,2.6,2.5,2.8,2.6,2.4,2.7,2.6,2.5,2.7,2.8,2.5,2.6,2.4,2.7,2.6,2.5,2.7,2.6,2.4,2.6,2.7,2.5,2.6,2.4,2.6,2.5,2.7,2.5,2.4,2.6,2.5,2.6,2.5],1,2);
const s174 = run(72,[1.5,1.7,1.4,1.6,1.5,1.8,1.4,1.6,1.5,1.3,1.6,1.5,1.7,1.4,1.5,1.6,1.4,1.5,1.7,1.5,1.4,1.6,1.5,1.3,1.5,1.6,1.4,1.5,1.6,1.4,1.5,1.3,1.5,1.6,1.4,1.5,1.4,1.6,1.5,1.3,1.5,1.4,1.6,1.4,1.5,1.4],1,1);
const s177 = run(70,[1.8,2,1.7,1.9,2.1,1.8,1.9,1.7,2,1.8,1.9,1.6,1.8,2,1.7,1.9,1.8,1.7,2,1.8,1.6,1.9,1.8,1.7,1.9,2,1.7,1.8,1.6,1.9,1.8,1.7,1.9,1.8,1.6,1.8,1.9,1.7,1.8,1.6,1.8,1.7,1.9,1.7,1.6,1.8,1.7,1.8],1,3);
const s181 = [...run(71,[0.9,0.8,1,0.7,0.9,0.8,1,0.8,0.7,0.9,0.8,1,0.8,0.9],1,2),
  ...run(85,[0.8,0.9,0.7,0.8,1,0.8,0.7,0.9,0.8,0.8,0.9,0.7,0.8,1,0.8,0.7,0.9,0.8,0.7,0.9,0.8,1,0.7,0.8,0.9,0.8,0.7,0.9,0.8,0.8,1,0.7,0.8,0.9,0.7,0.8,0.9,0.8,0.7,0.9,0.8,0.8,1,0.7,0.9,0.8,0.7,0.9,0.8,0.8,0.9,0.7,0.8,1,0.8,0.7,0.9,0.8,0.7,0.9,0.8,0.8,0.9,0.7,0.8,0.9],0.5)];

const seriesData = [s1,s2,s3,s4,s5,s6,s7,s9,s10,s11,s12,s13,s14,s15,s16,s20,s21,s22,s23,s31,s32,s33,s34,s35,s36,s37,s38,s41,s42,s43,s44,s45,s46,s51,s52,s53,s61,s62,s63,s71,s72,s73,s74,s75,s76,s77,s78,s79,s80,s81,s82,s83,s84,s85,s86,s87,s39,s88,s89,s101,s102,s103,s104,s105,s106,s107,s108,s110,s111,s112,s113,s114,s174,s177,s181];

// ---------- build ----------
const dayLabels = [];
monthSpans.forEach(([m, a, b]) => { for (let d = a; d <= b; d++) dayLabels.push((d === a ? m : "") + d + "日(6時～12時)"); });
const nCats = dayLabels.length * categoriesPerDay;

const svg = d3.select("#chart");
const P = {l: 125, r: 2785, t: 20, b: 1376};
const x = d3.scaleLinear().domain([0, nCats]).range([P.l, P.r]);
const y = d3.scaleLinear().domain([0, 300]).range([P.b, P.t]);
const cx = t => x(Math.round(t * categoriesPerDay) + 0.5);

svg.append("rect").attr("width", 2800).attr("height", 1625).attr("fill", "#fff");
svg.append("rect").attr("x", P.l).attr("y", P.t).attr("width", P.r - P.l).attr("height", P.b - P.t).attr("fill", "#C0C0C0");

// gridlines
svg.append("g").selectAll("line").data(d3.range(0, nCats + 1)).join("line")
  .attr("x1", d => x(d)).attr("x2", d => x(d)).attr("y1", P.t).attr("y2", P.b)
  .attr("stroke", "#000").attr("stroke-width", 1);
svg.append("g").selectAll("line").data(yTicks).join("line")
  .attr("x1", P.l).attr("x2", P.r).attr("y1", d => y(d)).attr("y2", d => y(d))
  .attr("stroke", "#000").attr("stroke-width", 1.2).attr("shape-rendering", "crispEdges");
svg.append("rect").attr("x", P.l).attr("y", P.t).attr("width", P.r - P.l).attr("height", P.b - P.t)
  .attr("fill", "none").attr("stroke", "#000").attr("stroke-width", 1.2);

// y axis
const yAxis = svg.append("g").attr("transform", `translate(${P.l},0)`)
  .call(d3.axisLeft(y).tickValues(yTicks).tickSize(0).tickPadding(17).tickFormat(d3.format("d")));
yAxis.select(".domain").remove();
yAxis.selectAll("text").attr("font-size", 21).attr("font-family", "Liberation Sans, sans-serif").attr("fill", "#000");

// x labels
svg.append("g").selectAll("text").data(dayLabels).join("text")
  .attr("transform", (d, i) => `translate(${x(i * categoriesPerDay + 0.5)},${P.b}) rotate(-90)`)
  .attr("x", -21).attr("dy", "0.36em").attr("text-anchor", "end").attr("font-size", 22.5).text(d => d);

// titles
svg.append("text").attr("transform", "translate(36,675) rotate(-90)").attr("text-anchor", "middle")
  .attr("dy", "0.35em").attr("font-size", 33).text("空間線量率(マイクロシーベルト/時)");
svg.append("text").attr("x", 1455).attr("y", 1607).attr("dy", "0.35em").attr("text-anchor", "middle")
  .attr("font-size", 25).text("測定日時(日時)");

// markers
const markerPath = {
  dia: "M0,-9L8,0L0,9L-8,0Z", hdia: "M0,-9L8,0L0,9L-8,0Z",
  sq: "M-7.5,-7.5H7.5V7.5H-7.5Z", tri: "M0,-9.5L8.5,7.5H-8.5Z",
  circ: "M-7.5,0A7.5,8.5 0 1,0 7.5,0A7.5,8.5 0 1,0 -7.5,0Z",
  x: "M-7,-8L7,8M-7,8L7,-8", star: "M-7,-8L7,8M-7,8L7,-8M0,-9V9",
  plus: "M-8,0H8M0,-9V9", dash: "M-6,-3.5H6V3.5H-6Z"
};
function styleMarker(sel, type, color) {
  sel.attr("d", markerPath[type]);
  if (type === "x" || type === "star" || type === "plus") sel.attr("fill", "none").attr("stroke", color).attr("stroke-width", 2.6);
  else if (type === "hdia") sel.attr("fill", "#C0C0C0").attr("stroke", color).attr("stroke-width", 2.8);
  else sel.attr("fill", color).attr("stroke", color).attr("stroke-width", 1);
}

svg.append("defs").append("clipPath").attr("id", "pc").append("rect")
  .attr("x", P.l - 10).attr("y", 0).attr("width", P.r - P.l + 20).attr("height", P.b + 6);
const series = svg.append("g").attr("clip-path", "url(#pc)");
const line = d3.line().x(d => cx(d[0])).y(d => y(d[1]));

seriesNames.forEach((name, i) => {
  const data = seriesData[i], color = seriesColors[i], mk = seriesMarkers[i];
  const g = series.append("g");
  const lim = dottedUntil[name];
  if (lim !== undefined) {
    g.append("path").attr("d", line(data.filter(d => d[0] <= lim))).attr("fill", "none")
      .attr("stroke", color).attr("stroke-width", 3).attr("stroke-dasharray", "3 4");
    g.append("path").attr("d", line(data.filter(d => d[0] >= lim))).attr("fill", "none")
      .attr("stroke", color).attr("stroke-width", 3);
  } else {
    g.append("path").attr("d", line(data)).attr("fill", "none").attr("stroke", color).attr("stroke-width", 3);
  }
  g.selectAll("path.m").data(data).join("path").attr("class", "m")
    .attr("transform", d => `translate(${cx(d[0])},${y(d[1])})`)
    .call(s => styleMarker(s, mk, color));
});

// 3月12日 annotation for point 32
svg.append("line").attr("x1", 48).attr("x2", P.l - 3).attr("y1", y(mar12Value32)).attr("y2", y(mar12Value32))
  .attr("stroke", "#FF9900").attr("stroke-width", 4).attr("stroke-dasharray", "4 4");
svg.append("line").attr("x1", 131).attr("x2", 131).attr("y1", y(mar12Value32)).attr("y2", y(40))
  .attr("stroke", "#FF9900").attr("stroke-width", 4).attr("stroke-dasharray", "9 5");
svg.append("line").attr("x1", 46).attr("x2", 46).attr("y1", 1168).attr("y2", 1232).attr("stroke", "#000").attr("stroke-width", 2);
svg.append("line").attr("x1", 46).attr("x2", 46).attr("y1", 1270).attr("y2", 1373).attr("stroke", "#000").attr("stroke-width", 2);
svg.append("line").attr("x1", 45).attr("x2", 202).attr("y1", 1372).attr("y2", 1372).attr("stroke", "#000").attr("stroke-width", 2);
svg.append("text").attr("x", 40).attr("y", 1250).attr("dy", "0.35em").attr("text-anchor", "middle").attr("font-size", 22).text("【32】");
svg.append("text").attr("transform", "translate(47,1438) rotate(-90)").attr("text-anchor", "middle")
  .attr("dy", "0.35em").attr("font-size", 24).text("3月12日");

// legend
const L = {x: 1703, y: 97, w: 1025, h: 381, x0: 1714, y0: 117, dx: 127.7, dy: 38};
const lg = svg.append("g");
lg.append("rect").attr("x", L.x).attr("y", L.y).attr("width", L.w).attr("height", L.h)
  .attr("fill", "#C0C0C0").attr("stroke", "#000").attr("stroke-width", 1.5);
seriesNames.forEach((name, i) => {
  const c = i % 8, r = Math.floor(i / 8);
  const gx = L.x0 + c * L.dx, gy = L.y0 + r * L.dy;
  const e = lg.append("g").attr("transform", `translate(${gx},${gy})`);
  e.append("line").attr("x1", 0).attr("x2", 55).attr("stroke", seriesColors[i]).attr("stroke-width", 3.5);
  e.append("path").attr("transform", "translate(27.5,0)").call(s => styleMarker(s, seriesMarkers[i], seriesColors[i]));
  e.append("text").attr("x", 61).attr("dy", "0.36em").attr("font-size", 30).text(name);
});
</script>
</body></html>
